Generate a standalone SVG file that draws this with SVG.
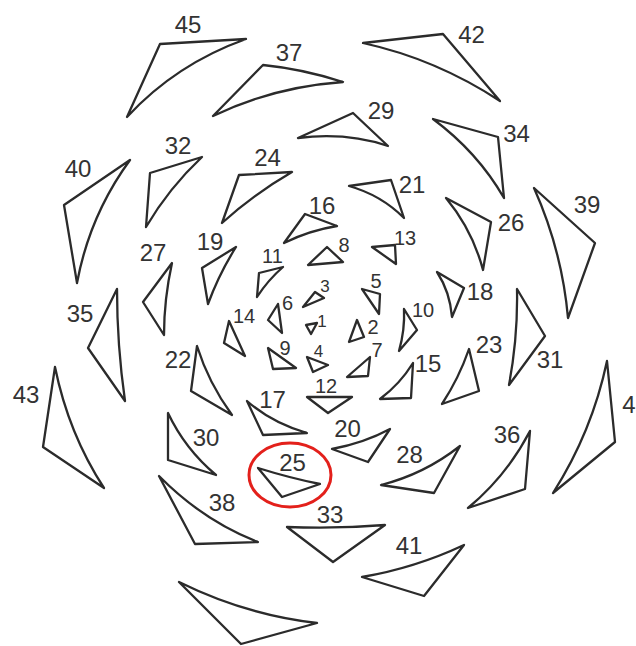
<svg xmlns="http://www.w3.org/2000/svg" width="636" height="646" viewBox="0 0 636 646">
<style>
.t{fill:none;stroke:#2b2b2b;stroke-width:2.3;stroke-linejoin:round}
text{font-family:"Liberation Sans",Arial,sans-serif;fill:#333;text-anchor:middle}
.l{font-size:24px}.m{font-size:20px}.s{font-size:17px}
</style>
<rect width="636" height="646" fill="#fff"/>
<g id="n1"><path class="t" d="M306,325 L317,323 L311,334 Z"/><text class="s" x="322" y="327">1</text></g>
<g id="n2"><path class="t" d="M357,320 L364,337 L349,342 Z"/><text class="m" x="373" y="334">2</text></g>
<g id="n3"><path class="t" d="M315,292 L324,298 L303,307 Z"/><text class="s" x="325" y="292">3</text></g>
<g id="n4"><path class="t" d="M307,357 L328,365 L313,372 Z"/><text class="s" x="318.5" y="357">4</text></g>
<g id="n5"><path class="t" d="M362,289 L380,294 L379,314 Z"/><text class="m" x="376" y="288">5</text></g>
<g id="n6"><path class="t" d="M278,304 L268,320 L282,333 Z"/><text class="m" x="287.5" y="310">6</text></g>
<g id="n7"><path class="t" d="M370,357 L368,376 L347,377 Z"/><text class="m" x="377" y="357">7</text></g>
<g id="n8"><path class="t" d="M327,247 L343,262 L308,265 Z"/><text class="m" x="344" y="252">8</text></g>
<g id="n9"><path class="t" d="M268,348 L296,368 L273,369 Z"/><text class="m" x="285" y="355">9</text></g>
<g id="n10"><path class="t" d="M404,309 L417,330 L399,351 Q405,330 404,309 Z"/><text class="m" x="423" y="317">10</text></g>
<g id="n11"><path class="t" d="M259,273 L283,267 Q268,280 257,297 Z"/><text class="m" x="272.5" y="263">11</text></g>
<g id="n12"><path class="t" d="M307,397 L352,397 L328,413 Z"/><text class="m" x="326" y="393">12</text></g>
<g id="n13"><path class="t" d="M372,247 L395,245 L396,264 Z"/><text class="m" x="405" y="245">13</text></g>
<g id="n14"><path class="t" d="M229,321 L245,356 L224,343 Z"/><text class="m" x="244" y="323">14</text></g>
<g id="n15"><path class="t" d="M413,363 L411,398 L380,399 Q400,384 413,363 Z"/><text class="l" x="428" y="372">15</text></g>
<g id="n16"><path class="t" d="M305,214 L337,226 Q309.4,230.4 284,243 Z"/><text class="l" x="322" y="214">16</text></g>
<g id="n17"><path class="t" d="M263,435 L307,433 Q272,423 247,401 Z"/><text class="l" x="272.5" y="408">17</text></g>
<g id="n18"><path class="t" d="M437,272 L464,288 L452,317 Q450,292 437,272 Z"/><text class="l" x="480" y="300">18</text></g>
<g id="n19"><path class="t" d="M202,268 L208,304 Q219,274 236,247 Z"/><text class="l" x="210" y="250">19</text></g>
<g id="n20"><path class="t" d="M368,462 L332,449 Q364,443 390,429 Z"/><text class="l" x="347.5" y="437">20</text></g>
<g id="n21"><path class="t" d="M391,180 L349,186 Q381,195 404,218 Z"/><text class="l" x="412" y="193">21</text></g>
<g id="n22"><path class="t" d="M191,391 L232,415 Q208.6,383 197,346 Z"/><text class="l" x="178" y="368">22</text></g>
<g id="n23"><path class="t" d="M469,349 L479,391 L442,404 Q459,378 469,349 Z"/><text class="l" x="489" y="353">23</text></g>
<g id="n24"><path class="t" d="M239,175 L222,223 Q254,194 292,172 Z"/><text class="l" x="267.5" y="166">24</text></g>
<g id="n25"><path class="t" d="M282,497 L258,468 Q290,478 320,484 Z"/><text class="l" x="292.5" y="471">25</text><ellipse cx="290" cy="475" rx="41" ry="32" fill="none" stroke="#e3201b" stroke-width="3"/></g>
<g id="n26"><path class="t" d="M491,222 L446,198 Q472.5,230 483,270 Z"/><text class="l" x="511" y="231">26</text></g>
<g id="n27"><path class="t" d="M143,302 L164,335 Q164,299.5 172,263 Z"/><text class="l" x="153" y="261">27</text></g>
<g id="n28"><path class="t" d="M434,493 L460,446 Q424.5,474 381,485 Z"/><text class="l" x="409.5" y="463">28</text></g>
<g id="n29"><path class="t" d="M353,113 L298,138 Q346.5,132 388,146 Z"/><text class="l" x="381" y="119">29</text></g>
<g id="n30"><path class="t" d="M168,460 L216,475 Q185,449 168,413 Z"/><text class="l" x="206" y="446">30</text></g>
<g id="n31"><path class="t" d="M545,336 L517,289 Q518,337 509,385 Z"/><text class="l" x="550" y="368">31</text></g>
<g id="n32"><path class="t" d="M150,173 L146,227 Q169,188 202,157 Z"/><text class="l" x="178" y="154">32</text></g>
<g id="n33"><path class="t" d="M333,562 L385,525 Q336,529 287,527 Z"/><text class="l" x="330" y="523">33</text></g>
<g id="n34"><path class="t" d="M498,137 L433,119 Q477.5,152 504,198 Z"/><text class="l" x="516.5" y="142">34</text></g>
<g id="n35"><path class="t" d="M88,348 L125,401 Q117,345 117,289 Z"/><text class="l" x="80" y="322">35</text></g>
<g id="n36"><path class="t" d="M525,489 L530,431 Q507,475.5 468,508 Z"/><text class="l" x="507" y="443">36</text></g>
<g id="n37"><path class="t" d="M263,65 Q303,69 343,82 Q273,87 213,116 Z"/><text class="l" x="289" y="61">37</text></g>
<g id="n38"><path class="t" d="M195,544 L258,542 Q203.5,521 159,476 Z"/><text class="l" x="222" y="511">38</text></g>
<g id="n39"><path class="t" d="M595,243 L534,188 Q562,250.5 568,318 Z"/><text class="l" x="587" y="213">39</text></g>
<g id="n40"><path class="t" d="M64,205 L77,283 Q89.5,215.5 130,160 Z"/><text class="l" x="78" y="177">40</text></g>
<g id="n41"><path class="t" d="M424,596 L464,545 Q415,568 362,577 Z"/><text class="l" x="409" y="554">41</text></g>
<g id="n42"><path class="t" d="M443,34 L363,43 Q436,59 500,101 Z"/><text class="l" x="471.5" y="43">42</text></g>
<g id="n43"><path class="t" d="M43,447 L104,488 Q68.5,433.5 55,367 Z"/><text class="l" x="26" y="403">43</text></g>
<g id="n44"><path class="t" d="M615,442 L607,361 Q592,432 553,493 Z"/><text class="l" x="629" y="413">4</text></g>
<g id="n45"><path class="t" d="M160,44 L246,39 Q176,64 127,117 Z"/><text class="l" x="188" y="33">45</text></g>
<g id="n47"><path class="t" d="M241,644 L317,623 Q246,615 179,582 Z"/></g>
<g id="connectors"/>
</svg>
